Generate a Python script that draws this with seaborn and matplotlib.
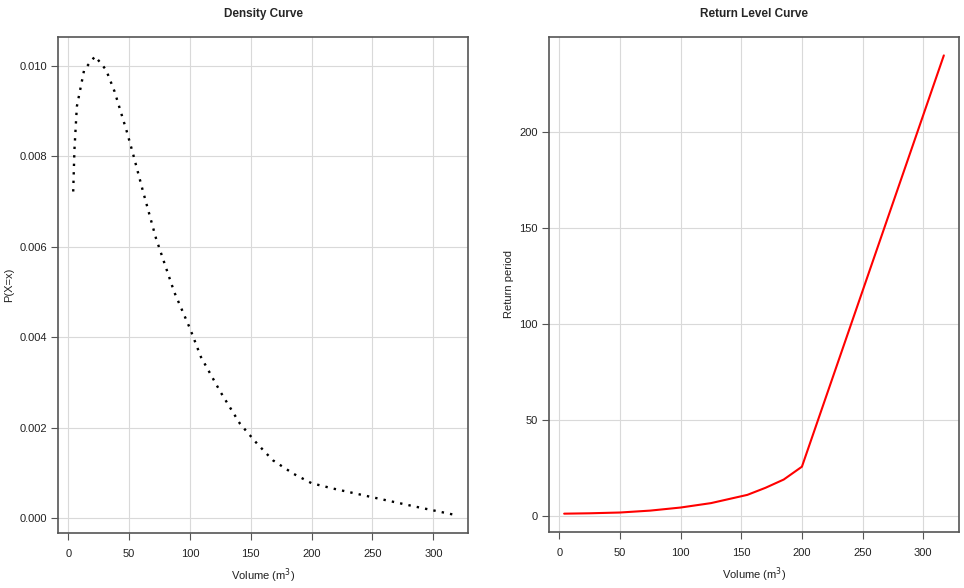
import matplotlib
matplotlib.use("Agg")
import matplotlib.pyplot as plt
import seaborn as sns
import pandas as pd

# density curve values
dens_volume = [4, 5, 7, 13, 22, 31, 38, 48, 53, 61, 72, 87, 100, 109, 125, 141,
               155, 168, 185, 200, 218, 250, 284, 316]
dens_prob = [0.00722, 0.00814, 0.0091, 0.00991, 0.01021, 0.00991, 0.00943, 0.00855,
             0.00807, 0.00726, 0.00619, 0.0050, 0.00419, 0.00356, 0.00279, 0.00209,
             0.00165, 0.00128, 0.00098, 0.00077, 0.00065, 0.00046, 0.00026, 0.00008]

# return level curve
ret_volume = [4, 25, 50, 75, 100, 125, 155, 170, 185, 200, 317]
ret_period = [1.0, 1.2, 1.6, 2.6, 4.2, 6.5, 10.8, 14.5, 18.8, 25.5, 240]

dens = pd.DataFrame({'volume': dens_volume, 'p': dens_prob})
ret = pd.DataFrame({'volume': ret_volume, 'period': ret_period})

sns.set_style("white")
plt.rcParams['font.family'] = ['Liberation Sans', 'DejaVu Sans']

fig = plt.figure(figsize=(9.64, 5.88), dpi=100)
ax1 = fig.add_axes([58/964, 1-533/588, 410/964, 496/588])
ax2 = fig.add_axes([549/964, 1-532/588, 410/964, 495/588])

sns.lineplot(data=dens, x='volume', y='p', ax=ax1, color='black',
             linewidth=1.7, linestyle=(0, (1, 2.6)))
sns.lineplot(data=ret, x='volume', y='period', ax=ax2, color='#ff0000', linewidth=1.5)

def style(ax, title, ylabel, xlim, ylim, yticks, yfmt):
    ax.set_xlim(*xlim)
    ax.set_ylim(*ylim)
    ax.set_xticks([0, 50, 100, 150, 200, 250, 300])
    ax.set_yticks(yticks)
    ax.set_yticklabels([yfmt.format(v) for v in yticks])
    ax.grid(True, color='#d9d9d9', linewidth=0.8)
    ax.set_axisbelow(True)
    for s in ax.spines.values():
        s.set_color('#555555')
        s.set_linewidth(1.2)
    ax.tick_params(axis='both', which='both', direction='out', length=5, width=0.8,
                   color='#555555', labelsize=8, labelcolor='#222222', pad=3,
                   bottom=True, left=True)
    ax.tick_params(axis='x', pad=6.5)
    ax.set_title(title, fontsize=8.5, fontweight='bold', pad=14.5)
    ax.set_xlabel('Volume (m$^3$)', fontsize=8, color='#222222', labelpad=5)
    ax.set_ylabel(ylabel, fontsize=8, color='#222222')

style(ax1, 'Density Curve', 'P(X=x)', (-8.5, 328.5), (-0.00033, 0.010636),
      [0.0, 0.002, 0.004, 0.006, 0.008, 0.010], '{:.3f}')
style(ax2, 'Return Level Curve', 'Return period', (-8.5, 329.5), (-8.56, 249.6),
      [0, 50, 100, 150, 200], '{:.0f}')

fig.savefig('out.png', dpi=100)
